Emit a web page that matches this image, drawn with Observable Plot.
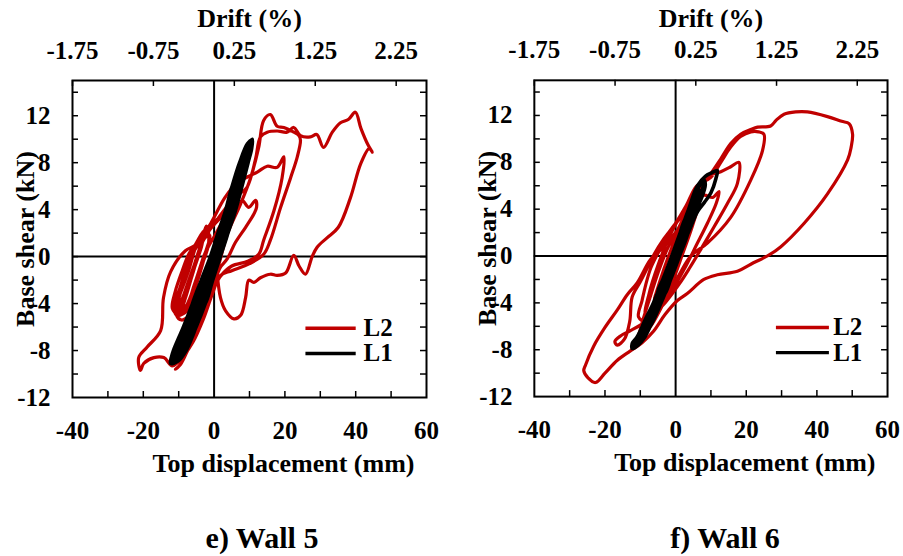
<!DOCTYPE html>
<html>
<head>
<meta charset="utf-8">
<script src="https://cdn.jsdelivr.net/npm/d3@7"></script>
<script src="https://cdn.jsdelivr.net/npm/@observablehq/plot@0.6"></script>
<style>
  body { margin: 0; background: #fff; }
  #fig { position: relative; width: 903px; height: 556px; overflow: hidden; background: #fff;
         font-family: "Liberation Serif", "Times New Roman", serif; font-weight: bold; color: #000; }
  .panel { position: absolute; top: 0; }
  .caption { position: absolute; top: 523px; width: 200px; font-size: 30px; line-height: 30px;
             text-align: center; white-space: nowrap; }
</style>
</head>
<body>
<div id="fig"></div>
<script>
// Axis ticks (mm, kN) and drift labels (%)
const xTicks = [-40, -20, 0, 20, 40, 60];
const xMinorTicks = [-30, -20, -10, 10, 20, 30, 40, 50];
const yTicks = [-12, -8, -4, 0, 4, 8, 12];
const yMinorTicks = [-10, -8, -6, -4, -2, 0, 2, 4, 6, 8, 10, 12, 14];
const driftTicks = [-1.75, -0.75, 0.25, 1.25, 2.25];
const wallHeight = 2286; // mm, converts top displacement to drift
const series = ["L2", "L1"];
const colors = ["#c00000", "#000000"];
const captions = ["e) Wall 5", "f) Wall 6"];

// Wall 5, loading L2: top displacement (mm), base shear (kN)
const wall5L2 = [
  [0,0],[1.2,1.4],[2.8,2.6],[3.5,3.0],[2.2,1.6],[0.5,0.2],[-1.5,-1.2],[-3.5,-2.4],[-5.5,-3.4],[-6.5,-4.0],
  [-5.2,-2.6],[-3.6,-1.0],[-2.0,0.6],[0.2,1.8],[2.5,3.0],[4.0,3.4],[3.0,2.2],[1.0,0.4],[-1.0,-1.6],[-4.0,-3.2],
  [-7.0,-4.2],[-9.0,-4.8],[-10.4,-4.6],[-9.6,-3.2],[-8.0,-1.6],[-6.2,0.2],[-4.0,1.2],[-2.0,2.0],[0.5,2.9],[3.0,3.6],
  [5.5,4.2],[4.5,2.8],[2.5,1.0],[0.8,-0.8],[-1.5,-2.2],[-4.5,-3.6],[-7.5,-4.6],[-10.0,-5.0],[-11.8,-4.4],[-11.0,-3.0],
  [-9.0,-1.2],[-7.0,0.3],[-4.5,1.3],[-2.0,2.4],
  [-4.2,0.6],[-6.8,-1.8],[-9.2,-3.8],[-10.2,-4.8],[-8.6,-4.6],[-6.4,-3.2],[-3.8,-1.0],[-1.6,1.0],[-1.8,2.2],[-3.6,1.0],
  [-5.8,-1.0],[-8.4,-3.2],[-10.0,-4.4],[-9.2,-4.9],[-7.2,-3.8],[-4.8,-1.8],[-2.4,0.4],[-1.2,1.8],[-2.6,1.6],[-5.0,-0.2],
  [-7.6,-2.4],[-9.6,-4.0],[-11.2,-4.6],[-10.4,-3.6],[-8.0,-4.2],[-5.6,-2.4],[-3.2,-0.2],[-1.4,1.4],[-2.2,2.6],
  [-3.4,1.4],[-5.4,-0.6],[-7.4,-2.6],[-9.2,-4.2],[-9.8,-4.8],[-8.2,-3.6],[-6.2,-1.6],[-4.2,0.4],[-2.8,1.8],
  [-4.6,0.0],[-6.6,-2.0],[-8.8,-3.8],[-10.6,-5.0],[-11.4,-4.2],[-9.8,-2.8],[-8.0,-1.0],[-6.0,0.6],[-4.2,1.6],[-3.0,2.2],
  [-5.2,0.8],[-7.2,-1.2],[-9.4,-3.0],[-10.8,-4.0],[-9.6,-4.6],[-7.6,-3.0],[-5.8,-1.2],[-3.6,0.8],[-2.4,2.2],
  [1.0,3.2],[3.7,3.8],[6.5,3.9],[7.9,4.8],[9.8,4.2],[11.7,4.8],[12.0,4.2],[11.2,3.6],[8.9,2.5],[6.0,1.2],
  [3.7,-0.2],[1.8,-0.9],[0.9,-1.5],[-0.1,-2.3],[-1.9,-3.6],[-4.8,-4.8],[-7.1,-5.1],[-9.2,-5.4],[-10.6,-5.0],[-10.2,-3.6],
  [-8.6,-1.6],[-6.8,0.0],[-4.0,1.5],[-1.0,2.8],
  [3.0,5.0],[6.5,6.3],[9.5,6.8],[12.2,7.2],[15.0,7.7],[17.8,7.6],[19.7,8.5],[19.2,6.7],[16.9,3.9],[14.0,1.4],
  [12.6,0.2],[9.5,-0.4],[5.0,-0.8],[2.0,-1.6],[0.0,-2.6],[-2.2,-4.0],[-4.8,-6.0],[-7.5,-8.0],[-9.5,-9.2],[-10.9,-9.6],
  [-9.6,-9.2],[-8.6,-8.3],[-6.5,-6.3],[-4.8,-4.6],[-1.9,-3.2],[0.0,-1.8],[1.5,-0.5],
  [3.7,1.9],[7.5,4.5],[10.3,6.7],[12.6,9.3],[14.0,11.6],[15.9,12.1],[17.8,11.1],[19.7,11.0],[22.5,10.6],[24.0,10.3],
  [24.4,9.9],[23.5,8.5],[21.6,6.7],[18.8,4.2],[15.9,1.4],[14.0,0.2],[10.0,-0.6],[5.0,-1.2],[1.8,-1.6],[-0.5,-3.2],
  [-3.0,-5.3],[-6.0,-7.3],[-8.5,-8.4],[-11.8,-9.3],[-14.2,-8.6],[-17.0,-8.6],[-19.9,-9.1],[-20.8,-9.7],[-21.3,-8.6],[-18.9,-7.7],
  [-15.1,-6.3],[-14.3,-3.5],[-12.3,-1.3],[-8.1,0.5],[-5.7,0.9],[-2.9,1.6],[0.0,2.8],
  [4.0,4.4],[7.0,5.3],[9.3,5.9],[11.7,8.3],[13.1,10.2],[15.0,10.6],[17.8,10.7],[20.6,10.6],[22.5,11.0],[24.4,10.3],
  [27.2,10.2],[29.0,10.4],[30.9,9.3],[33.4,10.6],[35.7,11.4],[38.0,11.7],[39.9,12.3],[41.5,10.9],[43.5,9.5],[44.7,8.9],
  [43.8,9.2],[41.4,7.9],[38.5,5.0],[35.1,2.5],[31.9,1.6],[29.1,0.8],[27.7,0.0],[25.8,-1.5],[24.0,-0.8],[22.5,0.1],
  [20.2,-1.4],[17.8,-1.6],[15.9,-1.5],[13.1,-1.8],[11.2,-2.2],[9.8,-2.0],[8.9,-3.5],[7.5,-5.0],[5.6,-5.3],[3.2,-4.6],
  [1.8,-3.5],[0.9,-1.5]
];

// Wall 5, loading L1
const wall5L1 = [
  [0.35,0],[1.8,2],[3.3,3.4],[4.4,4.2],[5.0,3.6],[3.9,2],[1.75,0],[-0.4,-2],[-2.5,-4],[-4.0,-4.4],
  [-5.6,-3.9],[-3.6,-2],[-1.05,0],[1.1,2],[3.3,4],
  [5.1,6],[6.6,7.0],[7.6,6.6],[6.1,4],[3.9,2],[1.75,0],[-0.4,-2],[-2.5,-4],[-5.1,-6],[-7.0,-7.2],
  [-8.6,-6.8],[-6.1,-4],[-3.6,-2],[-1.05,0],[1.1,2],[3.3,4],[5.1,6],[7.2,8],
  [9.2,9.4],[10.8,10.0],[10.6,9.2],[9.6,8],[7.9,6],[6.1,4],[3.9,2],[1.75,0],[-0.4,-2],[-2.5,-4],
  [-5.1,-6],[-7.9,-8],[-10.2,-8.9],[-12.3,-9.1],[-12.0,-8.5],[-11.5,-8],[-8.7,-6],[-6.1,-4],[-3.6,-2],[-1.05,0],
  [1.1,2],[3.3,4],[5.1,6],[7.2,8],[9.4,9.6],[10.6,9.9],
  [10.2,9.2],[9.0,8],[7.2,6],[5.4,4],[3.2,2],[1.05,0],[-1.2,-2],[-3.4,-4],[-6.0,-6],[-8.8,-8],
  [-11.4,-9.0],[-11.8,-8.6],[-10.6,-8],[-7.8,-6],[-5.2,-4],[-2.8,-2],[-0.35,0],[1.8,2],[4.0,4],[5.8,6],
  [7.8,8],[9.8,9.5],
  [9.8,9.0],[8.4,8],[6.5,6],[4.7,4],[2.5,2],[0.35,0],[-2.0,-2],[-4.3,-4],[-6.9,-6],[-9.7,-8],
  [-11.8,-8.9],[-11.0,-8.2],[-9.0,-7.2],[-6.4,-5.2],[-3.6,-3.0],[-0.9,-0.6],[0.35,0.4]
];

// Wall 6, loading L2
const wall6L2 = [
  [0,0],[2.0,1.8],[4.0,3.2],[5.0,3.8],[3.5,2.2],[1.0,0.0],[-1.5,-1.6],[-4.0,-3.0],[-6.0,-3.8],[-4.5,-2.2],
  [-2.0,0.0],[1.0,2.2],[4.0,4.0],[6.5,4.6],[5.0,2.8],[2.0,0.2],[-1.0,-2.2],[-5.0,-4.2],[-8.5,-5.0],[-7.5,-3.2],
  [-5.0,-0.8],[-2.0,1.5],[1.0,3.2],
  [5.0,4.6],[8.0,5.2],[10.5,5.0],[12.3,5.5],[11.5,4.5],[9.0,2.8],[6.0,1.0],[3.0,-0.8],[0.0,-2.4],[-3.0,-3.8],
  [-6.0,-4.8],[-8.5,-5.6],[-10.5,-5.2],[-9.5,-3.8],[-8.5,-2.5],[-7.0,-1.0],[-4.0,0.8],[-1.0,2.4],
  [2.0,3.5],[6.0,5.8],[9.0,6.8],[12.8,7.2],[15.5,7.6],[17.9,8.0],[17.5,6.2],[14.7,4.5],[10.9,2.5],[7.0,0.5],
  [4.0,-1.0],[1.0,-2.4],[-3.0,-4.0],[-7.0,-5.2],[-10.0,-5.9],[-13.0,-6.4],[-15.5,-6.8],[-17.2,-7.3],[-16.5,-7.6],[-14.5,-7.1],
  [-13.0,-5.6],[-12.3,-3.5],[-10.0,-2.2],[-8.0,-1.0],[-6.0,0.2],[-3.5,1.4],[0.0,2.8],[3.0,4.3],
  [6.0,6.0],[9.9,6.7],[12.8,8.0],[15.6,9.3],[18.4,10.2],[21.3,10.6],[23.5,10.6],[25.0,10.4],[24.6,9.0],[21.3,6.5],
  [15.6,3.3],[9.0,1.1],[4.3,0.0],[1.0,-1.6],[-3.0,-3.8],[-6.2,-5.6],[-9.0,-6.8],[-12.3,-7.9],[-11.0,-7.2],[-9.0,-5.2],
  [-7.0,-3.3],[-4.7,-1.2],[-2.5,0.5],[0.5,2.2],
  [3.5,4.0],[6.5,5.6],[9.9,7.0],[12.8,8.3],[15.6,9.6],[18.4,10.4],[21.3,10.8],[23.2,11.0],[26.9,11.1],[28.5,11.6],
  [30.7,12.1],[34.0,12.3],[37.3,12.3],[43.0,11.9],[47.0,11.5],[49.1,11.3],[50.1,10.4],[49.7,9.3],[48.7,8.2],[43.0,5.3],
  [36.4,2.8],[29.8,0.8],[26.5,0.1],[21.3,-0.7],[17.5,-1.3],[11.8,-1.6],[8.0,-2.0],[3.3,-3.2],[0.5,-3.8],[-3.0,-5.0],
  [-6.2,-6.4],[-9.5,-7.4],[-12.8,-8.1],[-16.5,-8.9],[-20.0,-10.0],[-22.7,-10.8],[-24.8,-10.4],[-26.0,-9.8],[-25.5,-9.3],[-23.2,-7.7],
  [-20.0,-6.1],[-16.5,-4.6],[-13.7,-3.3],[-10.9,-2.3],[-7.1,-0.3],[-3.3,0.8],[0.5,2.2],[3.0,3.4]
];

// Wall 6, loading L1
const wall6L1 = [
  [0,0],[1.3,2],[2.8,3.2],[3.9,3.4],[3.5,2],[1.1,0],[-1.4,-2],[-3.0,-3.2],[-4.6,-3.6],[-5.0,-3.0],
  [-3.6,-2],[-1.1,0],[1.3,2],[3.7,4],[5.2,5.0],
  [6.2,5.4],[6.4,4.8],[5.9,4],[3.5,2],[1.1,0],[-1.4,-2],[-4.1,-4],[-7.2,-6],[-8.6,-6.5],[-9.6,-6.4],
  [-9.4,-6],[-6.3,-4],[-3.6,-2],[-1.1,0],[1.3,2],[3.7,4],[6.2,6],[8.0,6.5],
  [8.4,6.1],[7.4,5.0],[5.9,4],[3.5,2],[1.1,0],[-1.4,-2],[-4.1,-4],[-7.2,-6],[-8.9,-7],[-10.6,-7.6],
  [-12.3,-7.9],[-12.2,-7.4],[-11.1,-7],[-9.4,-6],[-6.3,-4],[-3.6,-2],[-1.1,0],[1.3,2],[3.7,4],[6.2,6],
  [8.4,6.8],[10.2,7.1],[11.8,7.3],[11.4,6.6],[10.0,5.4],[8.2,4.6],[6.2,3.8],[3.6,2.0],
  [0.55,0],[-1.95,-2],[-4.65,-4],[-7.75,-6],[-9.45,-7],[-11.6,-7.7],[-11.4,-7.2],[-10.55,-7],[-8.85,-6],[-5.75,-4],
  [-3.05,-2],[-0.55,0],[1.85,2],[4.25,4],[6.75,6],[7.9,6.4],[7.85,6],[5.35,4],[2.95,2],[0.55,0],
  [-2.5,-2],[-5.2,-4],[-8.3,-6],[-10.0,-7],[-11.0,-7.4],[-10.4,-6.8],[-7.6,-5.2],[-4.6,-3.0],[-1.6,-1.0],[0,0.2],
  [2.4,2],[4.8,4],[6.8,5.6],[6.6,5.0],[4.4,3.0],[1.8,1.0],[0,-0.2]
];

const fw = 354, fh = 317;            // frame size in px
const ml = 72, mr = 16, mt = 80, mb = 83;
const tickLen = 6;

function panel({l2, l1, legendX1, legendX2, legendTextX}) {
  const legendRows = series.map((name, i) => ({name, color: colors[i], y: [-6.1, -8.25][i]}));
  return Plot.plot({
    width: ml + fw + mr,
    height: mt + fh + mb,
    marginLeft: ml, marginRight: mr, marginTop: mt, marginBottom: mb,
    x: {domain: [-40, 60]},
    y: {domain: [-12, 15]},
    style: {
      fontFamily: "'Liberation Serif', 'Times New Roman', serif",
      fontWeight: "bold",
      fontSize: "24px",
      color: "#000",
      background: "transparent",
      overflow: "visible"
    },
    marks: [
      Plot.ruleX([0], {stroke: "#000", strokeWidth: 2}),
      Plot.ruleY([0], {stroke: "#000", strokeWidth: 2}),
      Plot.line(l2, {x: d => d[0], y: d => d[1], stroke: colors[0], strokeWidth: 3.2, curve: "catmull-rom"}),
      Plot.line(l1, {x: d => d[0], y: d => d[1], stroke: colors[1], strokeWidth: 3.6, curve: "catmull-rom"}),
      // inward tick marks on all four sides
      Plot.ruleX(xMinorTicks, {insetTop: fh - tickLen, strokeWidth: 1.5}),
      Plot.ruleX(driftTicks.map(d => d * wallHeight / 100), {insetBottom: fh - tickLen, strokeWidth: 1.5}),
      Plot.ruleY(yMinorTicks, {insetRight: fw - tickLen, strokeWidth: 1.5}),
      Plot.ruleY(yMinorTicks, {insetLeft: fw - tickLen, strokeWidth: 1.5}),
      Plot.frame({stroke: "#000", strokeWidth: 2}),
      Plot.axisX(xTicks, {anchor: "bottom", tickSize: 0, tickPadding: 24, tickFormat: d => String(d), label: null, fontSize: 25}),
      Plot.axisX(driftTicks.map(d => d * wallHeight / 100), {
        anchor: "top", tickSize: 0, tickPadding: 22, label: null, fontSize: 25,
        tickFormat: d => (d * 100 / wallHeight).toFixed(2)
      }),
      Plot.axisY(yTicks, {anchor: "left", tickSize: 0, tickPadding: 22, tickFormat: d => String(d), label: null, fontSize: 25}),
      Plot.text(["Drift (%)"], {text: d => d, frameAnchor: "top", lineAnchor: "middle", dy: -62, fontSize: 26}),
      Plot.text(["Top displacement (mm)"], {text: d => d, frameAnchor: "bottom", lineAnchor: "middle", dy: 66, dx: 34, fontSize: 26}),
      Plot.text(["Base shear (kN)"], {text: d => d, frameAnchor: "left", textAnchor: "middle", lineAnchor: "middle", dx: -47, rotate: -90, fontSize: 26}),
      // legend
      Plot.link(legendRows, {x1: legendX1, x2: legendX2, y1: "y", y2: "y", stroke: "color", strokeWidth: 3.4}),
      Plot.text(legendRows, {x: legendTextX, y: "y", text: "name", textAnchor: "start", fontSize: 25})
    ]
  });
}

const fig = document.getElementById("fig");
const panels = [
  {l2: wall5L2, l1: wall5L1, legendX1: 25.8, legendX2: 40, legendTextX: 42.2, left: 0, capLeft: 162},
  {l2: wall6L2, l1: wall6L1, legendX1: 28.4, legendX2: 43.4, legendTextX: 44.6, left: 462, capLeft: 625}
];
panels.forEach((p, i) => {
  const div = document.createElement("div");
  div.className = "panel";
  div.style.left = p.left + "px";
  div.appendChild(panel(p));
  fig.appendChild(div);
  const cap = document.createElement("div");
  cap.className = "caption";
  cap.style.left = p.capLeft + "px";
  cap.textContent = captions[i];
  fig.appendChild(cap);
});
</script>
</body>
</html>
